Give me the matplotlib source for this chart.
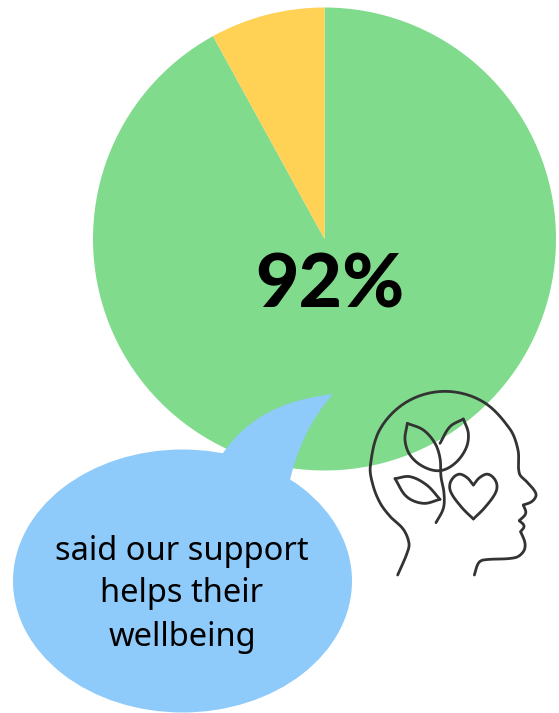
import numpy as np
import matplotlib
matplotlib.use("Agg")
import matplotlib.pyplot as plt
from matplotlib.patches import Ellipse, PathPatch
from matplotlib.path import Path

W, H = 559, 713

share_values = [92, 8]
share_colors = ["#81DB8C", "#FFD154"]
headline = "92%"
caption_lines = ["said our support", "helps their", "wellbeing"]

# icon outlines, in the icon's own 3x grid
head = [(113,585),(141,520),(147,490),(130,448),(91,410),(61,370),(39,316),(31,258),(61,146),(143,64),
        (255,34),(367,64),(449,146),(474,210),(478,280),(500,305),(522,330),(528,347),(515,365),(490,375)]
face = [(490,375),(497,400),(478,422)]
lips = [(478,422),(492,438),(482,455)]
chin = [(482,455),(495,490),(490,515),(465,533),(370,540),(355,550),(343,585)]
leaf_a = [(142,130),(190,150),(225,190),(240,235),(243,290),(252,340),(250,385),(228,428)]
leaf_b = [(142,130),(135,180),(150,225),(190,260),(240,272),(285,250),(318,205),(325,160),(310,117)]
leaf_c = [(310,117),(270,140),(240,190)]
leaf_d = [(105,296),(150,290),(200,315),(240,358)]
leaf_e = [(240,358),(190,370),(140,350),(105,296)]
heart_r = [(340,315),(360,292),(385,283),(408,305),(408,335),(375,382),(340,417)]
heart_l = [(340,315),(320,292),(295,283),(272,305),(272,335),(305,382),(340,417)]


def fy(py):
    return H - py


def smooth(pts, n=16):
    # hermite segments, tangent length follows the segment length
    p = np.array(pts, dtype=float)
    tang = np.gradient(p, axis=0)
    tang = tang / np.linalg.norm(tang, axis=1, keepdims=True)
    out = []
    for i in range(len(p) - 1):
        d = np.linalg.norm(p[i+1] - p[i]) / 3
        c1 = p[i] + tang[i] * d
        c2 = p[i+1] - tang[i+1] * d
        for t in np.linspace(0, 1, n):
            out.append((1-t)**3 * p[i] + 3*(1-t)**2*t * c1 + 3*(1-t)*t**2 * c2 + t**3 * p[i+1])
    return np.array(out)


fig = plt.figure(figsize=(W / 100, H / 100), dpi=100)
ax = fig.add_axes([0, 0, 1, 1])

ax.pie(share_values, colors=share_colors, startangle=90, counterclock=False,
       center=(324.5, fy(239)), radius=231.5, frame=False)
ax.set_xlim(0, W)
ax.set_ylim(0, H)
ax.set_aspect("equal")
ax.axis("off")

ax.text(330, fy(279), headline, ha="center", va="center_baseline", fontsize=54,
        fontweight=900, family="Lato", color="black")

# speech bubble and its tail
bubble = "#8ECAFA"
ax.add_patch(Ellipse((182.5, fy(581)), 339, 263, fc=bubble, ec="none", zorder=3))
tail = Path([(215, fy(470)), (223, fy(453)), (250, fy(415)), (285, fy(400)), (333, fy(394)),
             (333, fy(394)), (310, fy(420)), (297, fy(450)), (290, fy(480)), (215, fy(470))],
            [Path.MOVETO, Path.LINETO, Path.CURVE4, Path.CURVE4, Path.CURVE4,
             Path.LINETO, Path.CURVE4, Path.CURVE4, Path.CURVE4, Path.CLOSEPOLY])
ax.add_patch(PathPatch(tail, fc=bubble, ec="none", zorder=3))

for line, py in zip(caption_lines, [551, 594, 638]):
    ax.text(182, fy(py), line, ha="center", va="center", fontsize=23.5,
            family="Noto Sans", color="black", zorder=4)

for part in [head, face, lips, chin, leaf_a, leaf_b, leaf_c, leaf_d, leaf_e, heart_r, heart_l]:
    xy = smooth(part)
    ax.plot(360 + xy[:, 0] / 3, fy(380 + xy[:, 1] / 3), color="#333333", lw=2,
            solid_capstyle="round", zorder=5)

fig.savefig("out.png", dpi=100)
